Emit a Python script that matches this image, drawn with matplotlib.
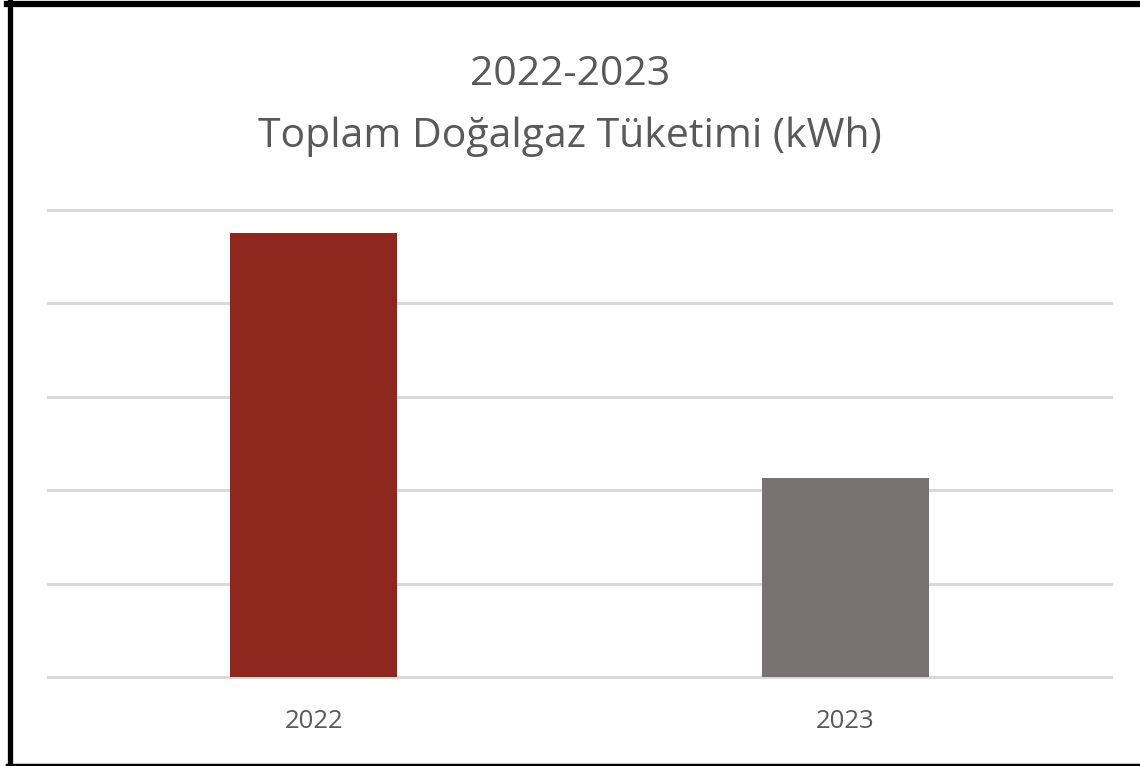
import matplotlib
matplotlib.use("Agg")
import matplotlib.pyplot as plt
from matplotlib.lines import Line2D

categories = ["2022", "2023"]
values = [4.75, 2.13]
bar_colors = ["#8E281F", "#787371"]
title_lines = ["2022-2023", "Toplam Doğalgaz Tüketimi (kWh)"]

W, H = 1140, 766
fig = plt.figure(figsize=(W / 100, H / 100), dpi=100)
fig.patch.set_facecolor("white")

ax = fig.add_axes([48 / W, 1 - 677 / H, (1111 - 48) / W, (677 - 209.5) / H])
x = list(range(len(categories)))
ax.bar(x, values, width=0.314, color=bar_colors, zorder=3)
ax.set_xlim(-0.5, 1.5)
ax.set_ylim(0, 5)
ax.set_yticks([0, 1, 2, 3, 4, 5])
ax.set_yticklabels([])
ax.tick_params(axis="y", length=0)
ax.grid(axis="y", color="#D9D9D9", linewidth=2.2, zorder=0)
for gl in ax.get_ygridlines():
    gl.set_clip_on(False)
for s in ax.spines.values():
    s.set_visible(False)
ax.set_xticks(x)
ax.set_xticklabels(categories, fontsize=18.5, color="#595959", family=["Open Sans", "DejaVu Sans"])
ax.tick_params(axis="x", length=0, pad=23)

fig.text(0.5, 1 - 85 / H, title_lines[0], ha="center", va="baseline", fontsize=29.5,
         color="#595959", family=["Open Sans", "DejaVu Sans"])
fig.text(0.5, 1 - 147 / H, title_lines[1], ha="center", va="baseline", fontsize=29.5,
         color="#595959", family=["Open Sans", "DejaVu Sans"])

# black frame
fig.add_artist(Line2D([9.5 / W, 9.5 / W], [0, 1], transform=fig.transFigure, color="black", linewidth=3.8))
fig.add_artist(Line2D([7 / W, 1], [1 - 3.5 / H, 1 - 3.5 / H], transform=fig.transFigure, color="black", linewidth=4.5))
fig.add_artist(Line2D([7 / W, 1], [1 - 765 / H, 1 - 765 / H], transform=fig.transFigure, color="black", linewidth=2.5))

fig.savefig("out.png", dpi=100, facecolor="white")
